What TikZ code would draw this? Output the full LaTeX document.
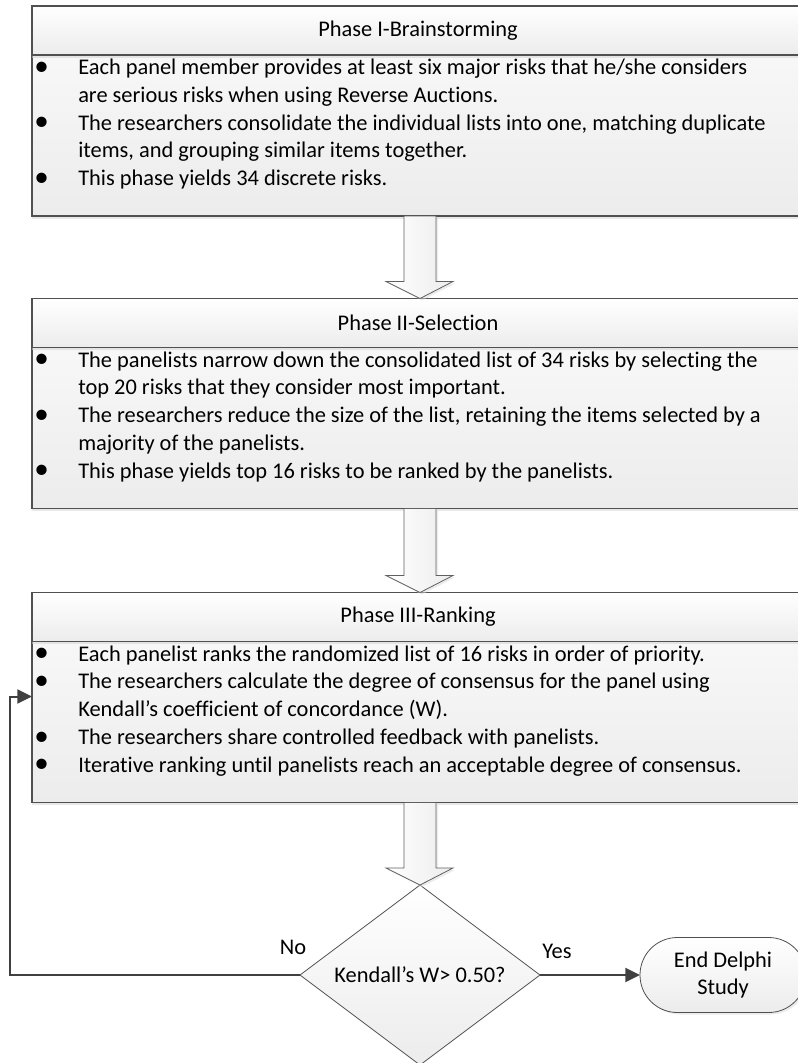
\documentclass[tikz,border=0pt]{standalone}
\usepackage{fontspec}
\setmainfont{Carlito}[Ligatures=NoCommon]
\usetikzlibrary{positioning,calc,shapes.geometric,arrows.meta,shadows}

\definecolor{edgegray}{HTML}{505050}
\definecolor{linegray}{HTML}{404040}
\definecolor{fillgray}{HTML}{ECECEC}

\newcommand{\bul}{\makebox[34.5pt][l]{\hspace{1.6pt}\raisebox{-0.6pt}{\scalebox{1.3}{•}}}}
\newcommand{\ind}{\makebox[34.5pt]{}}

\begin{document}
\begin{tikzpicture}[x=0.75pt, y=-0.75pt,
    every node/.style={font=\fontsize{16.8pt}{20.8pt}\selectfont},
    phasehead/.style={rectangle, draw=edgegray, line width=0.8pt, outer sep=0pt, inner sep=0pt,
        top color=white, bottom color=fillgray, minimum width=579pt, minimum height=36.75pt,
        drop shadow={shadow xshift=0pt, shadow yshift=-2pt, fill=gray!35}},
    phasebody/.style={rectangle, draw=edgegray, line width=0.8pt, outer sep=0pt,
        top color=white!60!fillgray, bottom color=fillgray, minimum width=579pt, minimum height=120.75pt,
        drop shadow={shadow xshift=0pt, shadow yshift=-2pt, fill=gray!35}},
    phaselist/.style={anchor=north west, inner sep=0pt, align=left},
    flowarrow/.style={draw=gray!75!black, line width=0.6pt, left color=white, right color=fillgray,
        drop shadow={shadow xshift=1.5pt, shadow yshift=-1.5pt, fill=gray!30}},
    decision/.style={diamond, draw=edgegray, line width=0.6pt, outer sep=0pt, inner sep=0pt, aspect=1.333,
        top color=white, bottom color=fillgray, minimum width=180pt, minimum height=135pt},
    stopnode/.style={rectangle, rounded corners=28pt, draw=edgegray, line width=0.6pt, outer sep=0pt,
        top color=white, bottom color=fillgray, minimum width=124.5pt, minimum height=56.25pt, align=center,
        drop shadow={shadow xshift=1.5pt, shadow yshift=-1.5pt, fill=gray!30}},
    flowline/.style={draw=linegray, line width=1.5pt, -{Triangle[length=11pt, width=10.5pt]}}
]
    \useasboundingbox (0,0) rectangle (797,1063);

    % phase boxes
    \node[phasebody] (b1) at (418,135.5) {};
    \node[phasehead, above=0pt of b1] (h1) {Phase I-Brainstorming};
    \node[phaselist] (t1) at (b1.north west) {%
        \strut\bul Each panel member provides at least six major risks that he/she considers\\
        \ind are serious risks when using Reverse Auctions.\\
        \bul The researchers consolidate the individual lists into one, matching duplicate\\
        \ind items, and grouping similar items together.\\
        \bul This phase yields 34 discrete risks.};

    \node[phasebody] (b2) at (418,428) {};
    \node[phasehead, above=0pt of b2] (h2) {Phase II-Selection};
    \node[phaselist] (t2) at (b2.north west) {%
        \strut\bul The panelists narrow down the consolidated list of 34 risks by selecting the\\
        \ind top 20 risks that they consider most important.\\
        \bul The researchers reduce the size of the list, retaining the items selected by a\\
        \ind majority of the panelists.\\
        \bul This phase yields top 16 risks to be ranked by the panelists.};

    \node[phasebody] (b3) at (418,722) {};
    \node[phasehead, above=0pt of b3] (h3) {Phase III-Ranking};
    \node[phaselist] (t3) at (b3.north west) {%
        \strut\bul Each panelist ranks the randomized list of 16 risks in order of priority.\\
        \bul The researchers calculate the degree of consensus for the panel using\\
        \ind Kendall’s coefficient of concordance (W).\\
        \bul The researchers share controlled feedback with panelists.\\
        \bul Iterative ranking until panelists reach an acceptable degree of consensus.};

    % decision and end
    \node[decision] (chk) at (420,975) {Kendall’s W> 0.50?};
    \node[stopnode] (stop) at (723,975) {End Delphi\\Study};

    % block arrows between steps
    \foreach \src/\dst in {b1/h2, b2/h3, b3/chk}
        \draw[flowarrow] (404,0 |- \src.south) -- ($(404,0 |- \dst.north)+(0,-17)$)
            -- ($(386,0 |- \dst.north)+(0,-17)$) -- (420,0 |- \dst.north)
            -- ($(453,0 |- \dst.north)+(0,-17)$) -- ($(436,0 |- \dst.north)+(0,-17)$)
            -- (436,0 |- \src.south) -- cycle;

    % yes / no
    \draw[flowline] (chk.east) -- (stop.west);
    \coordinate (back) at ($(b3.north west)+(0,55)$);
    \draw[flowline] (chk.west) -| ([xshift=-16.5pt]back) -- (back);
    \node (yes) at (557,951) {Yes};
    \node (no) at (293,947) {No};
\end{tikzpicture}
\end{document}
